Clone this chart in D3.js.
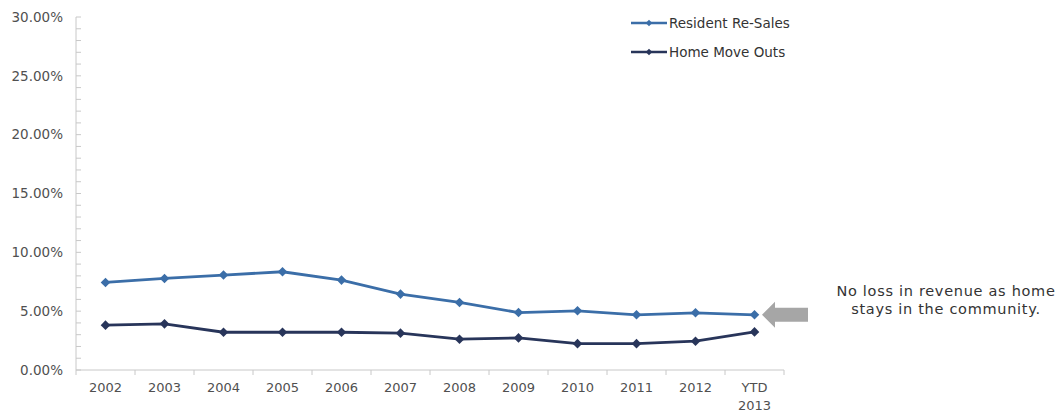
<!DOCTYPE html>
<html>
<head>
<meta charset="utf-8">
<script src="https://cdn.jsdelivr.net/npm/d3@7"></script>
<style>
  body { margin: 0; background: #fff; }
  text { font-family: "DejaVu Sans", sans-serif; }
</style>
</head>
<body>
<div id="chart"></div>
<script>
// data
const years = ["2002", "2003", "2004", "2005", "2006", "2007", "2008", "2009", "2010", "2011", "2012", "YTD 2013"];
const resales = [0.0744, 0.0778, 0.0807, 0.0835, 0.0764, 0.0645, 0.0574, 0.0488, 0.0503, 0.0469, 0.0486, 0.0469];
const moveOuts = [0.0381, 0.0392, 0.0321, 0.0321, 0.0321, 0.0313, 0.0262, 0.0273, 0.0224, 0.0224, 0.0245, 0.0324];
const yTicks = [0, 0.05, 0.10, 0.15, 0.20, 0.25, 0.30];
const series = [
  { name: "Resident Re-Sales", values: resales, color: "#3b6ea8" },
  { name: "Home Move Outs", values: moveOuts, color: "#28355a" }
];
const note = ["No loss in revenue as home", "stays in the community."];

const width = 1059, height = 420;
const svg = d3.select("#chart").append("svg")
  .attr("width", width).attr("height", height);

const x = d3.scaleBand().domain(years).range([76, 784]);
const y = d3.scaleLinear().domain([0, 0.30]).range([370, 17]);

// y axis
const yAxis = svg.append("g");
yAxis.append("line")
  .attr("x1", 76).attr("x2", 76)
  .attr("y1", y(0)).attr("y2", y(0.30))
  .attr("stroke", "#c8c8c8");
yAxis.selectAll("line.minor")
  .data(d3.range(0, 31).map(d => d / 100))
  .join("line")
  .attr("class", "minor")
  .attr("x1", 76).attr("x2", 81)
  .attr("y1", d => y(d)).attr("y2", d => y(d))
  .attr("stroke", "#c8c8c8");
yAxis.selectAll("text")
  .data(yTicks)
  .join("text")
  .attr("x", 63)
  .attr("y", d => y(d))
  .attr("dy", "0.35em")
  .attr("text-anchor", "end")
  .attr("font-size", 13.5)
  .attr("fill", "#505050")
  .text(d => d3.format(".2%")(d));

// x axis
const xAxis = svg.append("g");
xAxis.append("line")
  .attr("x1", 76).attr("x2", 784)
  .attr("y1", y(0)).attr("y2", y(0))
  .attr("stroke", "#c8c8c8");
xAxis.selectAll("line.tick")
  .data(years.map(d => x(d)).concat([784]))
  .join("line")
  .attr("class", "tick")
  .attr("x1", d => d).attr("x2", d => d)
  .attr("y1", y(0)).attr("y2", y(0) + 5)
  .attr("stroke", "#c8c8c8");
const xl = xAxis.selectAll("text")
  .data(years)
  .join("text")
  .attr("x", d => x(d) + x.bandwidth() / 2)
  .attr("y", 392)
  .attr("text-anchor", "middle")
  .attr("font-size", 13)
  .attr("fill", "#505050");
xl.selectAll("tspan")
  .data(d => d.split(" "))
  .join("tspan")
  .attr("x", function () { return this.parentNode.getAttribute("x"); })
  .attr("dy", (d, i) => i ? 18 : 0)
  .text(d => d);

// lines
const line = d3.line()
  .x((d, i) => x(years[i]) + x.bandwidth() / 2)
  .y(d => y(d));
const diamond = d3.symbol().type(d3.symbolSquare).size(46);

series.forEach(s => {
  svg.append("path")
    .attr("d", line(s.values))
    .attr("fill", "none")
    .attr("stroke", s.color)
    .attr("stroke-width", 2.8);
  svg.append("g").selectAll("path")
    .data(s.values)
    .join("path")
    .attr("d", diamond)
    .attr("transform", (d, i) => `translate(${x(years[i]) + x.bandwidth() / 2},${y(d)}) rotate(45)`)
    .attr("fill", s.color);
});

// legend
const legend = svg.append("g").selectAll("g")
  .data(series)
  .join("g")
  .attr("transform", (d, i) => `translate(631,${23 + i * 29})`);
legend.append("line")
  .attr("x1", 0).attr("x2", 36)
  .attr("stroke", d => d.color).attr("stroke-width", 2.6);
legend.append("path")
  .attr("d", d3.symbol().type(d3.symbolSquare).size(22))
  .attr("transform", "translate(18,0) rotate(45)")
  .attr("fill", d => d.color);
legend.append("text")
  .attr("x", 38).attr("dy", "0.35em")
  .attr("font-size", 13.5)
  .attr("fill", "#333")
  .text(d => d.name);

// arrow
const ay = y(resales[resales.length - 1]);
svg.append("path")
  .attr("d", `M762,${ay} L775,${ay - 13} L775,${ay - 7} L808,${ay - 7} L808,${ay + 7} L775,${ay + 7} L775,${ay + 13} Z`)
  .attr("fill", "#a6a6a6");

// note
svg.append("g").selectAll("text")
  .data(note)
  .join("text")
  .attr("x", 946)
  .attr("y", (d, i) => 296 + i * 18)
  .attr("text-anchor", "middle")
  .attr("font-size", 14.5)
  .attr("letter-spacing", 0.7)
  .attr("fill", "#333")
  .text(d => d);
</script>
</body>
</html>
